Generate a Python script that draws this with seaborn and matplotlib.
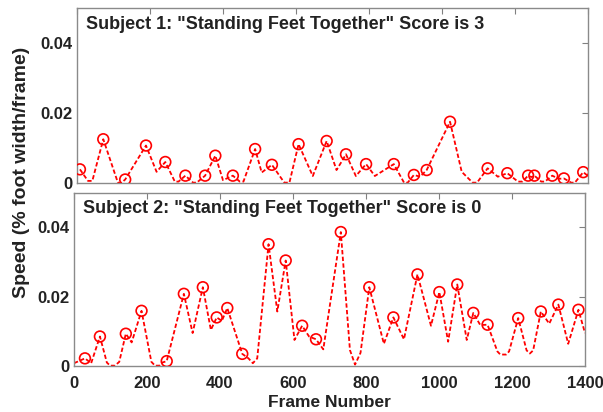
import numpy as np
import pandas as pd
import matplotlib
matplotlib.use("Agg")
import matplotlib.pyplot as plt
import seaborn as sns

# Subject 1 - peaks (marked) and troughs of the speed trace
s1_peak_frame = [8, 72, 132, 189, 242, 297, 351, 379, 427, 488, 534, 607, 684,
                 737, 792, 868, 923, 958, 1022, 1125, 1179, 1236, 1253, 1302,
                 1334, 1387]
s1_peak_speed = [0.0039, 0.0125, 0.0010, 0.0107, 0.0060, 0.0021, 0.0021, 0.0078,
                 0.0021, 0.0097, 0.0052, 0.0111, 0.0120, 0.0082, 0.0054, 0.0054,
                 0.0023, 0.0037, 0.0175, 0.0042, 0.0028, 0.0021, 0.0021, 0.0021,
                 0.0013, 0.0031]
s1_trough_frame = [30, 42, 112, 122, 218, 268, 278, 318, 328, 400, 446, 456,
                   506, 568, 582, 646, 711, 764, 816, 896, 906, 940, 1054,
                   1084, 1096, 1153, 1208, 1220, 1245, 1272, 1282, 1320, 1354,
                   1364, 1400]
s1_trough_speed = [0.0006, 0.0006, 0.0001, 0.0001, 0.0032, 0.0004, 0.0004,
                   0.0001, 0.0001, 0.0008, 0.0004, 0.0004, 0.0030, 0.0001,
                   0.0001, 0.0020, 0.0037, 0.0020, 0.0020, 0.0001, 0.0001,
                   0.0018, 0.0032, 0.0001, 0.0001, 0.0018, 0.0004, 0.0004,
                   0.0017, 0.0004, 0.0004, 0.0012, 0.0001, 0.0001, 0.0020]

# Subject 2
s2_peak_frame = [30, 71, 142, 185, 254, 301, 353, 391, 420, 461, 533, 580, 625,
                 663, 731, 809, 875, 941, 1001, 1050, 1094, 1133, 1217, 1279,
                 1327, 1382]
s2_peak_speed = [0.0022, 0.0085, 0.0093, 0.0159, 0.0014, 0.0208, 0.0227, 0.0140,
                 0.0167, 0.0035, 0.0351, 0.0304, 0.0116, 0.0077, 0.0386, 0.0227,
                 0.0140, 0.0264, 0.0213, 0.0235, 0.0153, 0.0119, 0.0138, 0.0157,
                 0.0177, 0.0162]
s2_trough_frame = [0, 47, 90, 99, 112, 124, 158, 212, 222, 234, 242, 325, 375,
                   405, 478, 490, 502, 557, 604, 644, 683, 756, 770, 785, 849,
                   904, 978, 1025, 1076, 1113, 1160, 1168, 1184, 1192, 1240,
                   1249, 1258, 1302, 1354, 1400]
s2_trough_speed = [0.0008, 0.0008, 0.0010, 0.0001, 0.0001, 0.0012, 0.0068,
                   0.0012, 0.0001, 0.0001, 0.0010, 0.0095, 0.0104, 0.0130,
                   0.0022, 0.0008, 0.0022, 0.0157, 0.0075, 0.0085, 0.0048,
                   0.0046, 0.0004, 0.0038, 0.0064, 0.0077, 0.0116, 0.0070,
                   0.0075, 0.0118, 0.0042, 0.0033, 0.0033, 0.0042, 0.0045,
                   0.0036, 0.0045, 0.0122, 0.0064, 0.0095]

titles = ['Subject 1: "Standing Feet Together" Score is 3',
          'Subject 2: "Standing Feet Together" Score is 0']
x_ticks = [0, 200, 400, 600, 800, 1000, 1200, 1400]
y_ticks = [0, 0.02, 0.04]
y_tick_labels = ["0", "0.02", "0.04"]

sns.set_theme(style="white")
plt.rcParams["font.family"] = ["Liberation Sans", "DejaVu Sans"]

fig = plt.figure(figsize=(6.03, 4.12), dpi=100)
ax1 = fig.add_axes([77 / 603, 1 - 183 / 412, 511 / 603, 175 / 412])
ax2 = fig.add_axes([74 / 603, 1 - 366 / 412, 511 / 603, 173.5 / 412])

subjects = [
    (ax1, s1_peak_frame, s1_peak_speed, s1_trough_frame, s1_trough_speed),
    (ax2, s2_peak_frame, s2_peak_speed, s2_trough_frame, s2_trough_speed),
]

for i, (ax, pf, ps, tf, ts) in enumerate(subjects):
    peaks = pd.DataFrame({"frame": pf, "speed": ps})
    trace = pd.concat([peaks, pd.DataFrame({"frame": tf, "speed": ts})])
    trace = trace.sort_values("frame")

    sns.lineplot(data=trace, x="frame", y="speed", ax=ax, color="red",
                 lw=1.3, estimator=None, sort=True, dashes=False)
    ax.lines[-1].set_dashes((2.4, 1.3))
    sns.scatterplot(data=peaks, x="frame", y="speed", ax=ax, marker="o",
                    s=60, facecolors="none", edgecolors="red", linewidths=1.2,
                    zorder=3)

    ax.set_xlim(0, 1400)
    ax.set_ylim(0, 0.05)
    ax.set_xticks(x_ticks)
    ax.set_yticks(y_ticks)
    ax.set_yticklabels(y_tick_labels)
    ax.tick_params(direction="in", length=4, width=0.8, color="#808080",
                   top=True, right=True, labelsize=12)
    ax.tick_params(axis="y", pad=3)
    ax.tick_params(axis="x", pad=7)
    for lab in ax.get_xticklabels() + ax.get_yticklabels():
        lab.set_fontweight("bold")
        lab.set_color("#222222")
    for sp in ax.spines.values():
        sp.set_color("#8a8a8a")
        sp.set_linewidth(1.0)
    ax.set_xlabel("")
    ax.set_ylabel("")
    ax.text(0.018, 0.905, titles[i], transform=ax.transAxes, fontsize=13,
            fontweight="bold", color="#222222", va="center", ha="left")

ax1.tick_params(labelbottom=False)
ax2.set_xlabel("Frame Number", fontsize=12.5, fontweight="bold",
               color="#222222", labelpad=3)
fig.text(22 / 603, 1 - 172 / 412, "Speed (% foot width/frame)", rotation=90,
         fontsize=14, fontweight="bold", color="#222222",
         ha="center", va="center")

fig.savefig("out.png", dpi=100)
plt.close(fig)
